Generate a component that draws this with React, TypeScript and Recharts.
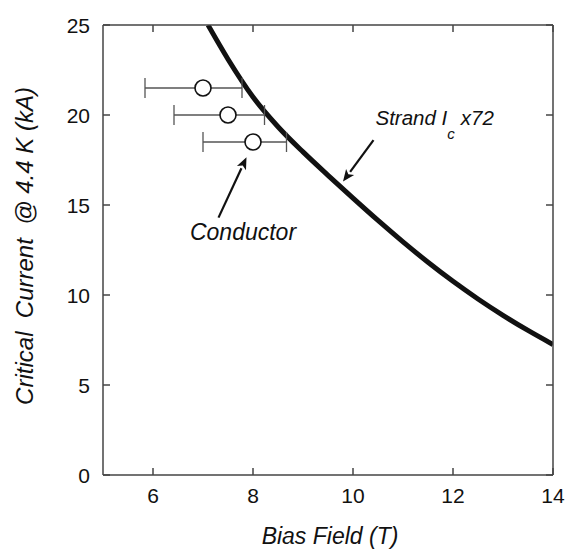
import {
  ComposedChart,
  Line,
  Scatter,
  ErrorBar,
  XAxis,
  YAxis,
  ReferenceLine,
  ReferenceDot,
} from "recharts";

// strand Ic x72 curve
const fieldT = [7.1, 7.5, 8, 8.5, 9, 9.5, 10, 10.5, 11, 11.5, 12, 12.5, 13, 13.5, 14];
const strandKA = [25.0, 23.1, 21.0, 19.35, 17.95, 16.65, 15.38, 14.14, 12.95, 11.82, 10.76, 9.78, 8.87, 8.03, 7.25];

// conductor measurements with asymmetric field error
const condField = [7.0, 7.5, 8.0];
const condKA = [21.5, 20.0, 18.5];
const condErrLow = [1.16, 1.08, 1.0];
const condErrHigh = [0.78, 0.73, 0.67];

const xTicks = [6, 8, 10, 12, 14];
const yTicks = [0, 5, 10, 15, 20, 25];

const curve = fieldT.map((x, i) => ({ x, y: strandKA[i] }));
const conductor = condField.map((x, i) => ({
  x,
  y: condKA[i],
  err: [condErrLow[i], condErrHigh[i]],
}));

const FONT = "'Liberation Sans', Arial, Helvetica, sans-serif";
const AXIS = "#444";
const TICK_LEN = 7;
const LABEL_GAP = 13;

// inward tick + outside label for the bottom axis
function BottomTick(p: any) {
  const axisY = p.y - LABEL_GAP;
  return (
    <g>
      <line x1={p.x} y1={axisY} x2={p.x} y2={axisY - TICK_LEN} stroke={AXIS} strokeWidth={1.5} />
      <text x={p.x} y={axisY + LABEL_GAP} dy={15} textAnchor="middle" fontSize={21} fontFamily={FONT} fill="#111">
        {p.payload.value}
      </text>
    </g>
  );
}

function LeftTick(p: any) {
  const axisX = p.x + LABEL_GAP;
  return (
    <g>
      <line x1={axisX} y1={p.y} x2={axisX + TICK_LEN} y2={p.y} stroke={AXIS} strokeWidth={1.5} />
      <text x={p.x} y={p.y} dy={7.5} textAnchor="end" fontSize={21} fontFamily={FONT} fill="#111">
        {p.payload.value}
      </text>
    </g>
  );
}

function TopTick(p: any) {
  return <line x1={p.x} y1={p.y} x2={p.x} y2={p.y + TICK_LEN} stroke={AXIS} strokeWidth={1.5} />;
}

function RightTick(p: any) {
  return <line x1={p.x} y1={p.y} x2={p.x - TICK_LEN} y2={p.y} stroke={AXIS} strokeWidth={1.5} />;
}

function Arrow(props: any) {
  const { x1, y1, x2, y2 } = props;
  const ang = Math.atan2(y2 - y1, x2 - x1);
  const len = 12;
  const w = 5;
  const bx = x2 - len * Math.cos(ang);
  const by = y2 - len * Math.sin(ang);
  const px = -Math.sin(ang) * w;
  const py = Math.cos(ang) * w;
  return (
    <g>
      <line x1={x1} y1={y1} x2={bx} y2={by} stroke="#111" strokeWidth={2.2} />
      <polygon
        points={`${x2},${y2} ${bx + px},${by + py} ${bx + (x2 - bx) * 0.25},${by + (y2 - by) * 0.25} ${bx - px},${by - py}`}
        fill="#111"
      />
    </g>
  );
}

export default function App() {
  return (
    <div style={{ position: "absolute", left: 0, top: 0, background: "#fff" }}>
      <ComposedChart
        width={565}
        height={551}
        margin={{ top: 24, right: 11, left: 0, bottom: 0 }}
        style={{ fontFamily: FONT }}
      >
        <XAxis
          xAxisId="b"
          type="number"
          dataKey="x"
          domain={[5, 14]}
          ticks={xTicks}
          allowDataOverflow
          height={76}
          tickSize={0}
          tickLine={false}
          tickMargin={LABEL_GAP}
          stroke={AXIS}
          strokeWidth={1.5}
          tick={<BottomTick />}
          label={{
            content: (p: any) => {
              const vb = p.viewBox;
              return (
                <text
                  x={vb.x + vb.width / 2 + 2}
                  y={vb.y + 69}
                  textAnchor="middle"
                  fontSize={23}
                  fontStyle="italic"
                  fontFamily={FONT}
                  fill="#111"
                >
                  Bias Field (T)
                </text>
              );
            },
          }}
        />
        <XAxis
          xAxisId="t"
          orientation="top"
          type="number"
          dataKey="x"
          domain={[5, 14]}
          ticks={xTicks}
          allowDataOverflow
          height={1}
          tickSize={0}
          tickLine={false}
          tickMargin={0}
          tick={<TopTick />}
          stroke={AXIS}
          strokeWidth={1.5}
        />
        <YAxis
          yAxisId="l"
          type="number"
          dataKey="y"
          domain={[0, 25]}
          ticks={yTicks}
          allowDataOverflow
          width={103}
          tickSize={0}
          tickLine={false}
          tickMargin={LABEL_GAP}
          stroke={AXIS}
          strokeWidth={1.5}
          tick={<LeftTick />}
          label={{
            content: (p: any) => {
              const vb = p.viewBox;
              const cx = vb.x + 24;
              const cy = vb.y + vb.height / 2 - 4;
              return (
                <text
                  x={cx}
                  y={cy}
                  transform={`rotate(-90, ${cx}, ${cy})`}
                  textAnchor="middle"
                  dominantBaseline="central"
                  fontSize={24}
                  fontStyle="italic"
                  fontFamily={FONT}
                  fill="#111"
                  xmlSpace="preserve"
                  style={{ whiteSpace: "pre" }}
                >
                  {"Critical  Current  @ 4.4 K (kA)"}
                </text>
              );
            },
          }}
        />
        <YAxis
          yAxisId="r"
          orientation="right"
          type="number"
          dataKey="y"
          domain={[0, 25]}
          ticks={yTicks}
          allowDataOverflow
          width={1}
          tickSize={0}
          tickLine={false}
          tickMargin={0}
          tick={<RightTick />}
          stroke={AXIS}
          strokeWidth={1.5}
        />

        <Line
          xAxisId="b"
          yAxisId="l"
          data={curve}
          dataKey="y"
          type="monotone"
          stroke="#111"
          strokeWidth={5}
          dot={false}
          activeDot={false}
          isAnimationActive={false}
        />

        <Scatter
          xAxisId="b"
          yAxisId="l"
          data={conductor}
          dataKey="y"
          isAnimationActive={false}
          shape={(p: any) => (
            <circle cx={p.cx} cy={p.cy} r={8} fill="#fff" stroke="#111" strokeWidth={1.6} />
          )}
        >
          <ErrorBar
            dataKey="err"
            direction="x"
            width={10}
            stroke="#555"
            strokeWidth={1.3}
            isAnimationActive={false}
          />
        </Scatter>

        <ReferenceLine
          xAxisId="b"
          yAxisId="l"
          segment={[
            { x: 10.41, y: 18.6 },
            { x: 9.8, y: 16.3 },
          ]}
          shape={(p: any) => <Arrow {...p} />}
        />
        <ReferenceLine
          xAxisId="b"
          yAxisId="l"
          segment={[
            { x: 7.31, y: 14.3 },
            { x: 7.87, y: 17.65 },
          ]}
          shape={(p: any) => <Arrow {...p} />}
        />

        <ReferenceDot
          xAxisId="b"
          yAxisId="l"
          x={10.45}
          y={19.45}
          r={0}
          shape={(p: any) => (
            <text x={p.cx} y={p.cy} fontSize={20.5} fontStyle="italic" fontFamily={FONT} fill="#111">
              <tspan>Strand I</tspan>
              <tspan fontSize={15} dy={14}>c</tspan>
              <tspan dy={-14} dx={6}>x72</tspan>
            </text>
          )}
        />
        <ReferenceDot
          xAxisId="b"
          yAxisId="l"
          x={7.8}
          y={13.05}
          r={0}
          shape={(p: any) => (
            <text
              x={p.cx}
              y={p.cy}
              textAnchor="middle"
              fontSize={23}
              fontStyle="italic"
              fontFamily={FONT}
              fill="#111"
            >
              Conductor
            </text>
          )}
        />
      </ComposedChart>
    </div>
  );
}
